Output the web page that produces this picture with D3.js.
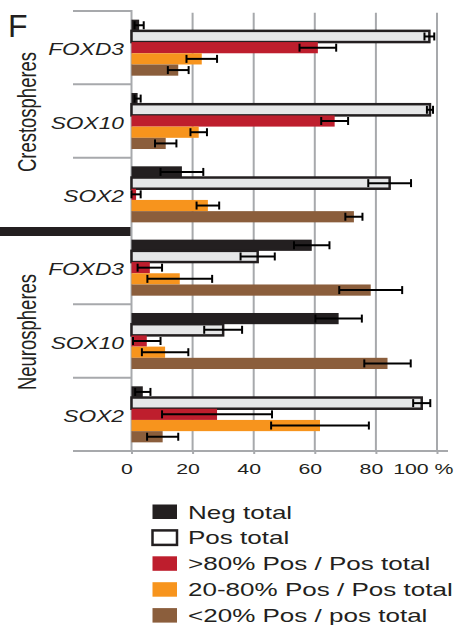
<!DOCTYPE html>
<html>
<head>
<meta charset="utf-8">
<script src="https://cdn.jsdelivr.net/npm/d3@7"></script>
<style>
  body { margin: 0; background: #fff; }
  svg { display: block; font-family: "Liberation Sans", Arial, sans-serif; }
</style>
</head>
<body>
<div id="chart"></div>
<script>
// groups, top to bottom
const groupKeys = ["c-FOXD3", "c-SOX10", "c-SOX2", "n-FOXD3", "n-SOX10", "n-SOX2"];
const genes = ["FOXD3", "SOX10", "SOX2", "FOXD3", "SOX10", "SOX2"];
const spheres = ["Crestospheres", "Neurospheres"];
const seriesNames = ["Neg total", "Pos total", ">80% Pos / Pos total", "20-80% Pos / Pos total", "<20% Pos / pos total"];
const seriesColors = ["#231f20", "#e6e7e8", "#be1e2d", "#f7941d", "#8b5e3c"];
const xTicks = [0, 20, 40, 60, 80, 100];

// values (%) and error bars, one entry per group
const negTotal = [2.5, 2, 16.5, 59, 67.8, 3.7];
const negErr   = [1.5, 1, 7, 5.8, 7.6, 2.5];
const posTotal = [97.5, 97.7, 84.5, 41.3, 30, 95];
const posErr   = [1.6, 1, 7, 5.6, 6.2, 2.8];
const highPos  = [61, 66.5, 1.5, 6, 5, 28];
const highErr  = [6, 4.4, 1.5, 4, 4.5, 18];
const midPos   = [23, 22, 25, 15.8, 11, 61.7];
const midErr   = [5, 2.7, 3.7, 10.6, 7.6, 16];
const lowPos   = [15.3, 11.2, 72.8, 78.3, 83.8, 10.2];
const lowErr   = [3.4, 3.5, 2.8, 10.3, 7.6, 5.1];

const values = [negTotal, posTotal, highPos, midPos, lowPos];
const errors = [negErr, posErr, highErr, midErr, lowErr];

const width = 456, height = 625;
const ink = "#231f20", grid = "#a7a9ac";
const sx = 1.42; // the figure's text is stretched horizontally

const svg = d3.select("#chart").append("svg")
  .attr("width", width)
  .attr("height", height);

const x = d3.scaleLinear().domain([0, 100]).range([131.5, 437]);
const y0 = d3.scaleBand().domain(groupKeys).range([11, 451])
  .paddingInner(0.236).paddingOuter(0.118);
const y1 = d3.scaleBand().domain(seriesNames).range([0, y0.bandwidth()]);
const color = d3.scaleOrdinal().domain(seriesNames).range(seriesColors);
const step = y0.step();
const plotTop = y0.range()[0];

// vertical gridlines (0 doubles as the y axis)
svg.append("g").selectAll("line")
  .data(xTicks)
  .enter().append("line")
  .attr("x1", d => x(d)).attr("x2", d => x(d))
  .attr("y1", d => d === 0 ? 10 : 12.7)
  .attr("y2", 451)
  .attr("stroke", grid)
  .attr("stroke-width", 2);

// separators on the left
const bounds = d3.range(groupKeys.length + 1);
svg.append("g").selectAll("line")
  .data(bounds.filter(i => i !== 3 && i !== groupKeys.length))
  .enter().append("line")
  .attr("x1", 73).attr("x2", x(0))
  .attr("y1", i => plotTop + i * step).attr("y2", i => plotTop + i * step)
  .attr("stroke", grid)
  .attr("stroke-width", 2);

svg.append("rect")
  .attr("x", 0).attr("y", plotTop + 3 * step - 4)
  .attr("width", x(0) - 1).attr("height", 9)
  .attr("fill", ink);

// x axis
svg.append("line")
  .attr("x1", 73).attr("x2", 448)
  .attr("y1", 451).attr("y2", 451)
  .attr("stroke", grid).attr("stroke-width", 2);

const xAxis = d3.axisBottom(x)
  .tickValues(xTicks)
  .tickSize(3)
  .tickFormat(d => d === 100 ? "100 %" : d);

const ax = svg.append("g")
  .attr("transform", "translate(0,451)")
  .call(xAxis)
  .attr("font-family", "'Liberation Sans', Arial, sans-serif")
  .attr("font-size", 15);
ax.select(".domain").remove();
ax.selectAll(".tick line").attr("stroke", grid).attr("stroke-width", 2);
ax.selectAll(".tick text")
  .attr("y", 23).attr("dy", 0)
  .attr("fill", ink)
  .attr("text-anchor", d => d === 100 ? "end" : "middle")
  .attr("transform", d => (d === 100 ? "translate(16,0)" : "translate(-5,0)") + ` scale(${sx},1)`);

// bars
const rows = groupKeys.map((g, i) => ({
  key: g,
  gene: genes[i],
  items: seriesNames.map((s, j) => ({ series: s, v: values[j][i], e: errors[j][i] }))
}));

const groups = svg.append("g").selectAll("g")
  .data(rows)
  .enter().append("g")
  .attr("transform", d => `translate(0,${y0(d.key)})`);

groups.selectAll("rect")
  .data(d => d.items)
  .enter().append("rect")
  .attr("x", x(0))
  .attr("y", d => y1(d.series))
  .attr("width", d => x(d.v) - x(0))
  .attr("height", y1.bandwidth())
  .attr("fill", d => color(d.series))
  .attr("stroke", d => d.series === "Pos total" ? ink : "none")
  .attr("stroke-width", 2.5);

// error bars
const capH = 8;
const eb = groups.selectAll("g.err")
  .data(d => d.items)
  .enter().append("g")
  .attr("class", "err")
  .attr("transform", d => `translate(0,${y1(d.series) + y1.bandwidth() / 2})`)
  .attr("stroke", "#000")
  .attr("stroke-width", 2);

eb.append("line")
  .attr("x1", d => x(Math.max(0, d.v - d.e)))
  .attr("x2", d => x(d.v + d.e));
eb.append("line")
  .attr("x1", d => x(Math.max(0, d.v - d.e))).attr("x2", d => x(Math.max(0, d.v - d.e)))
  .attr("y1", -capH / 2).attr("y2", capH / 2);
eb.append("line")
  .attr("x1", d => x(d.v + d.e)).attr("x2", d => x(d.v + d.e))
  .attr("y1", -capH / 2).attr("y2", capH / 2);

// gene labels
groups.append("text")
  .attr("transform", d => `translate(124,${y0.bandwidth() / 2 + 7.5}) scale(1.44,1)`)
  .attr("text-anchor", "end")
  .attr("font-style", "italic")
  .attr("font-size", 15.8)
  .attr("fill", ink)
  .text(d => d.gene);

// sphere labels
svg.append("g").selectAll("text")
  .data(spheres)
  .enter().append("text")
  .attr("transform", (d, i) => `translate(36,${plotTop + (i * 3 + 1.5) * step - 9}) scale(${sx},1) rotate(-90)`)
  .attr("text-anchor", "middle")
  .attr("font-size", 18.5)
  .attr("fill", ink)
  .text(d => d);

// panel letter
svg.append("text")
  .attr("x", 8).attr("y", 36.7)
  .attr("font-size", 32)
  .attr("fill", ink)
  .text("F");

// legend
const legend = svg.append("g").selectAll("g")
  .data(seriesNames)
  .enter().append("g")
  .attr("transform", (d, i) => `translate(0,${518.5 + i * 25.9})`);

legend.append("rect")
  .attr("x", 152.5).attr("y", -14)
  .attr("width", 24.5).attr("height", 14.5)
  .attr("fill", d => d === "Pos total" ? "#fff" : color(d))
  .attr("stroke", d => d === "Pos total" ? ink : "none")
  .attr("stroke-width", 2.5);

legend.append("text")
  .attr("transform", `translate(188,0) scale(1.4,1)`)
  .attr("font-size", 18.6)
  .attr("fill", ink)
  .text(d => d);
</script>
</body>
</html>
